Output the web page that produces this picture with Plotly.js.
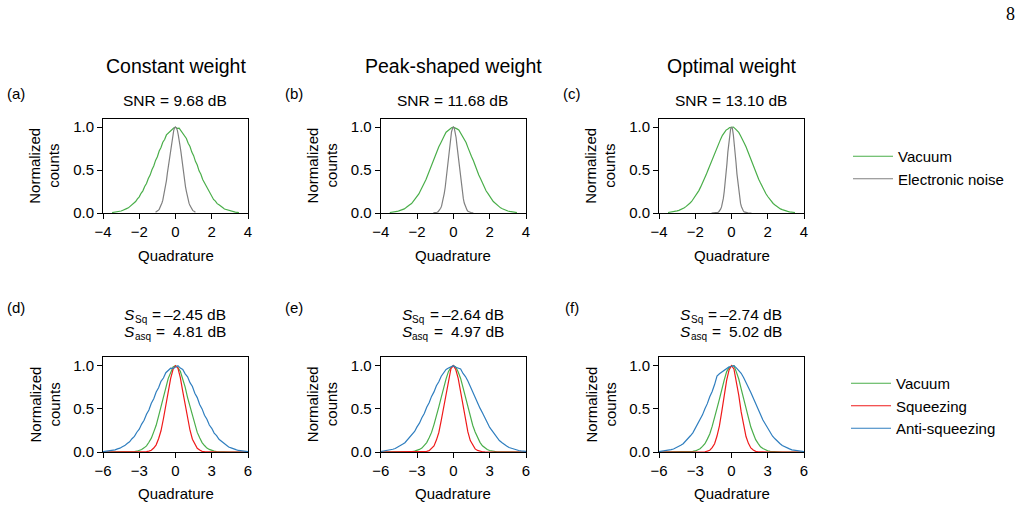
<!DOCTYPE html>
<html><head><meta charset="utf-8">
<script src="https://cdn.plot.ly/plotly-3.0.1.min.js"></script>
<style>html,body{margin:0;padding:0;background:#fff;}#chart{width:1023px;height:505px;}</style>
</head><body><div id="chart"></div>
<script>
// ---------- data ----------
const quadTop = [-3.5,-3.4,-3.3,-3.2,-3.1,-3.0,-2.9,-2.8,-2.7,-2.6,-2.5,-2.4,-2.3,-2.2,-2.1,-2.0,-1.9,-1.8,-1.7,-1.6,-1.5,-1.4,-1.3,-1.2,-1.1,-1.0,-0.9,-0.8,-0.7,-0.6,-0.5,-0.4,-0.3,-0.2,-0.1,0,0.1,0.2,0.3,0.4,0.5,0.6,0.7,0.8,0.9,1.0,1.1,1.2,1.3,1.4,1.5,1.6,1.7,1.8,1.9,2.0,2.1,2.2,2.3,2.4,2.5,2.6,2.7,2.8,2.9,3.0,3.1,3.2,3.3,3.4,3.5];
const quadElec = [-1.1,-1.05,-1.0,-0.95,-0.9,-0.85,-0.8,-0.75,-0.7,-0.65,-0.6,-0.55,-0.5,-0.45,-0.4,-0.35,-0.3,-0.25,-0.2,-0.15,-0.1,-0.05,0,0.05,0.1,0.15,0.2,0.25,0.3,0.35,0.4,0.45,0.5,0.55,0.6,0.65,0.7,0.75,0.8,0.85,0.9,0.95,1.0,1.05,1.1];
const quadBottom = [-6.0,-5.8,-5.6,-5.4,-5.2,-5.0,-4.8,-4.6,-4.4,-4.2,-4.0,-3.8,-3.6,-3.4,-3.2,-3.0,-2.8,-2.6,-2.4,-2.2,-2.0,-1.8,-1.6,-1.4,-1.2,-1.0,-0.8,-0.6,-0.4,-0.2,0,0.2,0.4,0.6,0.8,1.0,1.2,1.4,1.6,1.8,2.0,2.2,2.4,2.6,2.8,3.0,3.2,3.4,3.6,3.8,4.0,4.2,4.4,4.6,4.8,5.0,5.2,5.4,5.6,5.8,6.0];

// (a)-(c): vacuum and electronic noise
const vacuumA = [.005,.008,.012,.014,.020,.023,.032,.038,.051,.060,.078,.091,.115,.133,.165,.188,.229,.258,.308,.343,.401,.441,.503,.547,.612,.655,.722,.762,.824,.855,.909,.930,.958,.972,.990,1.0,.985,.988,.957,.941,.896,.868,.811,.774,.709,.668,.601,.558,.491,.450,.390,.352,.298,.266,.221,.194,.158,.138,.109,.095,.073,.063,.047,.040,.030,.025,.018,.015,.010,.008,.006];
const vacuumB = [.006,.007,.011,.016,.018,.025,.030,.041,.048,.063,.074,.095,.110,.137,.160,.194,.222,.265,.300,.350,.392,.448,.494,.556,.603,.666,.712,.772,.813,.866,.898,.940,.960,.981,.992,1.0,.993,.979,.966,.931,.905,.858,.821,.764,.720,.658,.611,.548,.500,.442,.398,.344,.306,.259,.228,.189,.164,.133,.114,.091,.077,.060,.050,.038,.032,.023,.019,.014,.012,.008,.005];
const vacuumC = [.006,.009,.010,.015,.019,.024,.031,.039,.050,.061,.077,.092,.113,.134,.163,.190,.226,.261,.304,.346,.396,.444,.498,.551,.608,.661,.718,.766,.819,.860,.904,.934,.965,.978,.995,.998,1.0,.982,.962,.938,.900,.864,.815,.770,.714,.664,.605,.554,.495,.447,.393,.349,.301,.263,.224,.192,.161,.136,.111,.093,.075,.062,.048,.039,.030,.024,.019,.014,.011,.008,.006];
const elecA = [.009,.015,.020,.032,.043,.063,.083,.116,.149,.198,.246,.314,.377,.462,.534,.627,.702,.790,.852,.921,.958,.993,1.0,.986,.965,.913,.861,.781,.711,.619,.543,.454,.385,.308,.252,.193,.153,.112,.086,.061,.045,.030,.022,.013,.009];
const elecB = [.001,.001,.003,.005,.009,.013,.023,.034,.055,.080,.120,.163,.229,.297,.390,.479,.590,.686,.792,.871,.946,.981,1.0,.988,.939,.879,.784,.694,.582,.487,.382,.303,.223,.167,.116,.082,.053,.036,.021,.014,.008,.004,.003,.001,.001];
const elecC = [0,0,0,0,.001,.002,.004,.007,.015,.025,.045,.071,.116,.170,.252,.342,.461,.578,.711,.819,.921,.975,1.0,.983,.913,.827,.703,.585,.455,.348,.246,.174,.112,.073,.043,.026,.013,.008,.004,.002,.001,0,0,0,0];

// (d)-(f): vacuum, squeezing, anti-squeezing
const vacuumD = [0,0,0,0,0,0,0,0,0,0,.001,.001,.003,.006,.009,.018,.028,.048,.071,.113,.160,.233,.309,.415,.516,.640,.742,.853,.925,.985,1.0,.978,.934,.845,.752,.630,.524,.407,.316,.227,.166,.109,.075,.045,.030,.016,.010,.005,.003,.001,.001,0,0,0,0,0,0,0,0,0,0];
const squeezD = [0,0,0,0,0,0,0,0,0,0,0,0,0,0,0,0,.001,.002,.004,.010,.020,.046,.083,.154,.246,.385,.534,.712,.852,.958,1.0,.972,.861,.702,.543,.377,.252,.148,.087,.043,.022,.008,.004,.002,.001,0,0,0,0,0,0,0,0,0,0,0,0,0,0,0,0];
const antiD = [.004,.007,.011,.013,.020,.025,.036,.044,.061,.074,.099,.118,.154,.181,.229,.264,.323,.367,.437,.487,.565,.616,.695,.744,.818,.856,.918,.941,.970,.968,.985,1.0,.972,.955,.905,.870,.803,.758,.681,.630,.551,.499,.425,.379,.312,.274,.219,.190,.147,.125,.094,.079,.057,.048,.033,.027,.018,.015,.009,.007,.005];
const vacuumE = [0,0,0,0,0,0,0,0,0,0,.001,.002,.003,.005,.010,.016,.030,.046,.075,.109,.166,.227,.317,.408,.523,.632,.751,.846,.933,.980,1.0,.985,.927,.852,.745,.638,.517,.414,.310,.232,.161,.112,.072,.048,.028,.017,.009,.006,.002,.001,.001,0,0,0,0,0,0,0,0,0,0];
const squeezE = [0,0,0,0,0,0,0,0,0,0,0,0,0,0,0,0,0,.001,.003,.008,.016,.039,.071,.138,.226,.365,.515,.698,.845,.965,1.0,.955,.853,.688,.525,.356,.233,.132,.075,.036,.018,.006,.003,.001,0,0,0,0,0,0,0,0,0,0,0,0,0,0,0,0,0];
const antiE = [.006,.010,.012,.019,.023,.032,.040,.055,.066,.089,.107,.138,.163,.206,.238,.291,.334,.397,.445,.518,.570,.644,.696,.768,.814,.877,.910,.955,.972,.990,1.0,.982,.975,.962,.909,.874,.823,.757,.705,.633,.579,.508,.454,.388,.341,.284,.245,.199,.168,.133,.110,.085,.069,.052,.042,.030,.025,.017,.013,.009,.007];
const vacuumF = [0,0,0,0,0,0,0,0,0,0,0,.001,.002,.004,.008,.012,.024,.038,.065,.096,.149,.208,.296,.386,.505,.613,.741,.836,.931,.976,.995,1.0,.928,.845,.731,.622,.498,.394,.289,.214,.143,.100,.061,.040,.022,.014,.007,.004,.002,.001,0,0,0,0,0,0,0,0,0,0,0];
const squeezF = [0,0,0,0,0,0,0,0,0,0,0,0,0,0,0,0,0,0,.001,.003,.010,.021,.050,.096,.185,.302,.474,.648,.832,.950,1.0,.961,.822,.659,.464,.310,.179,.100,.047,.023,.008,.003,.001,0,0,0,0,0,0,0,0,0,0,0,0,0,0,0,0,0,0];
const antiF = [.005,.008,.010,.015,.019,.027,.034,.047,.058,.078,.096,.124,.150,.188,.222,.272,.316,.378,.430,.501,.560,.640,.700,.781,.880,.905,.925,.938,.962,.985,.990,1.0,.975,.948,.912,.862,.812,.748,.690,.620,.560,.490,.433,.370,.320,.266,.226,.183,.153,.119,.098,.075,.060,.045,.036,.025,.020,.013,.011,.007,.005];

const columnTitles = ['Constant weight','Peak-shaped weight','Optimal weight'];
const panelLabels = ['(a)','(b)','(c)','(d)','(e)','(f)'];
const snrValues = ['9.68','11.68','13.10'];
const sSqValues = ['–2.45','–2.64','–2.74'];
const sAsqValues = ['4.81','4.97','5.02'];
const topTicks = [-4,-2,0,2,4];
const bottomTicks = [-6,-3,0,3,6];
const yTicks = [0,0.5,1.0];
const seriesNames = {vac:'Vacuum', elec:'Electronic noise', sq:'Squeezing', asq:'Anti-squeezing'};

// ---------- layout ----------
const W = 1023, H = 505;
const FONT = '"Liberation Sans", Arial, Helvetica, sans-serif';
const COL = {vac:'#4aae4a', elec:'#808080', sq:'#ef1a1a', asq:'#2f7ebf'};
const colX = [[103,248],[380.7,526],[659,804]];
const rowY = [[118.5,213],[357,452]];
const fx = p => p / W;
const fy = p => 1 - p / H;

const vacTop = [vacuumA, vacuumB, vacuumC];
const elecTop = [elecA, elecB, elecC];
const vacBot = [vacuumD, vacuumE, vacuumF];
const sqBot = [squeezD, squeezE, squeezF];
const asqBot = [antiD, antiE, antiF];

const traces = [];
const layout = {
  width: W, height: H, margin: {l:0, r:0, t:0, b:0},
  paper_bgcolor: '#fff', plot_bgcolor: '#fff',
  font: {family: FONT, size: 15, color: '#000'},
  showlegend: true,
  legend: {x: fx(848), y: fy(140), xanchor: 'left', yanchor: 'top', bgcolor: 'rgba(0,0,0,0)',
           font: {family: FONT, size: 15, color: '#000'}, itemwidth: 40, tracegroupgap: 0},
  legend2: {x: fx(846), y: fy(367), xanchor: 'left', yanchor: 'top', bgcolor: 'rgba(0,0,0,0)',
           font: {family: FONT, size: 15, color: '#000'}, itemwidth: 40, tracegroupgap: 0},
  annotations: []
};

function axisBase() {
  return {showline: true, mirror: true, linecolor: '#000', linewidth: 1, ticks: 'outside',
          ticklen: 5, tickwidth: 1, tickcolor: '#000', showgrid: false, zeroline: false,
          tickfont: {family: FONT, size: 15, color: '#000'}, fixedrange: true};
}

function A(text, x, y, size, extra) {
  const extraFont = (extra && extra.fontExtra) || {};
  const ann = Object.assign({
    text: text, xref: 'paper', yref: 'paper', x: fx(x), y: fy(y), xanchor: 'center', yanchor: 'middle',
    showarrow: false, font: Object.assign({family: FONT, size: size, color: '#000'}, extraFont)
  }, extra || {});
  delete ann.fontExtra;
  layout.annotations.push(ann);
}

for (let r = 0; r < 2; r++) {
  for (let c = 0; c < 3; c++) {
    const k = r * 3 + c + 1;
    const xa = 'xaxis' + (k === 1 ? '' : k), ya = 'yaxis' + (k === 1 ? '' : k);
    const xr = 'x' + (k === 1 ? '' : k), yr = 'y' + (k === 1 ? '' : k);
    layout[xa] = Object.assign(axisBase(), {
      domain: [fx(colX[c][0]), fx(colX[c][1])], anchor: yr,
      range: r === 0 ? [-4, 4] : [-6, 6], tickvals: r === 0 ? topTicks : bottomTicks
    });
    layout[ya] = Object.assign(axisBase(), {
      domain: [fy(rowY[r][1]), fy(rowY[r][0])], anchor: xr,
      range: [0, 1.1], tickvals: yTicks, tickformat: '.1f'
    });
    const line = (x, y, color, name, leg, show) => ({
      type: 'scatter', mode: 'lines', x: x, y: y, xaxis: xr, yaxis: yr,
      line: {color: color, width: 1.2}, name: name, legend: leg, showlegend: show, hoverinfo: 'skip'
    });
    if (r === 0) {
      traces.push(line(quadTop, vacTop[c], COL.vac, seriesNames.vac, 'legend', c === 0));
      traces.push(line(quadElec, elecTop[c], COL.elec, seriesNames.elec, 'legend', c === 0));
    } else {
      traces.push(line(quadBottom, vacBot[c], COL.vac, seriesNames.vac, 'legend2', c === 0));
      traces.push(line(quadBottom, sqBot[c], COL.sq, seriesNames.sq, 'legend2', c === 0));
      traces.push(line(quadBottom, asqBot[c], COL.asq, seriesNames.asq, 'legend2', c === 0));
    }
    const x0 = colX[c][0];
    const cx = (colX[c][0] + colX[c][1]) / 2;
    const cy = (rowY[r][0] + rowY[r][1]) / 2;
    // axis titles
    A('Quadrature', cx, r === 0 ? 255 : 493, 15);
    A('Normalized', x0 - 68, cy, 15, {textangle: -90});
    A('counts', x0 - 49, cy, 15, {textangle: -90});
    // panel label
    A(panelLabels[k - 1], x0 - 87, r === 0 ? 94 : 307, 15);
    if (r === 0) {
      A(columnTitles[c], cx, 66, 19.5);
      A('SNR = ' + snrValues[c] + ' dB', cx - 1, 101, 15.5);
    } else {
      // S_Sq line
      A('S', x0 + 19, 314, 15.5, {xanchor: 'left', fontExtra: {style: 'italic'}});
      A('Sq', x0 + 29.5, 319, 10, {xanchor: 'left'});
      A('=', x0 + 53.5, 314, 15.5);
      A(sSqValues[c] + ' dB', x0 + 125, 314, 15.5, {xanchor: 'right'});
      // S_asq line
      A('S', x0 + 19, 331, 15.5, {xanchor: 'left', fontExtra: {style: 'italic'}});
      A('asq', x0 + 29.5, 336, 10, {xanchor: 'left'});
      A('=', x0 + 57.5, 331, 15.5);
      A(sAsqValues[c] + ' dB', x0 + 125, 331, 15.5, {xanchor: 'right'});
    }
  }
}
A('8', 1010.5, 13.5, 18, {fontExtra: {family: '"Liberation Serif", "DejaVu Serif", serif'}});

Plotly.newPlot('chart', traces, layout, {displayModeBar: false, staticPlot: true});
</script>
</body></html>
